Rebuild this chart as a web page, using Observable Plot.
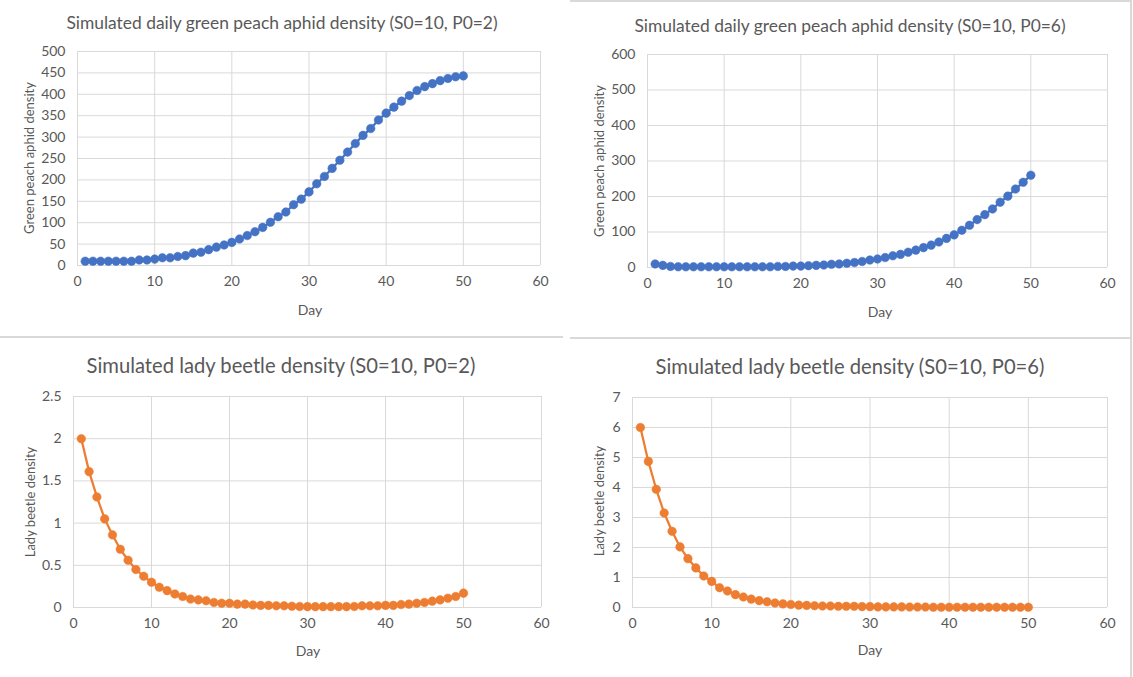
<!DOCTYPE html>
<html><head><meta charset="utf-8">
<script src="https://cdn.jsdelivr.net/npm/d3@7"></script>
<script src="https://cdn.jsdelivr.net/npm/@observablehq/plot@0.6"></script>
<style>
body{margin:0;background:#fff;}
#root{position:relative;width:1133px;height:677px;overflow:hidden;background:#fff;font-family:Lato,"Open Sans",sans-serif;color:#595959;}
.svgwrap{position:absolute;}
.txt{position:absolute;transform:translate(-50%,-50%);white-space:nowrap;color:#595959;}
.ylab{position:absolute;transform:translate(-50%,-50%) rotate(-90deg);white-space:nowrap;color:#595959;font-size:13px;line-height:1;}
.xlab{font-size:14px;}
.rule{position:absolute;background:#d9d9d9;}
</style>
</head><body><div id="root"></div>
<script>
const days = d3.range(1, 51);
const aphidP2 = [10,10,10,10,10,10,10,13,13,15,18,18,21,23,29,31,37,43,48,54,62,70,79,89,101,114,125,142,155,172,191,208,227,246,265,285,304,320,340,356,370,384,397,409,418,425,432,437,441,443];
const aphidP6 = [10,6,3,2,2,2,2,2,2,2,2,2,2,2,2,2,3,3,4,4,5,6,7,9,10,12,14,17,21,24,28,33,37,43,49,56,63,72,82,92,105,119,135,149,165,184,201,221,240,260];
const beetleP2 = [2.0,1.61,1.31,1.05,0.86,0.69,0.56,0.45,0.37,0.30,0.24,0.20,0.16,0.13,0.10,0.09,0.08,0.06,0.05,0.05,0.04,0.04,0.03,0.025,0.025,0.02,0.02,0.015,0.012,0.01,0.01,0.01,0.01,0.01,0.01,0.012,0.02,0.02,0.02,0.025,0.025,0.035,0.04,0.05,0.06,0.075,0.09,0.11,0.13,0.17];
const beetleP6 = [6.0,4.87,3.94,3.15,2.54,2.02,1.63,1.32,1.05,0.87,0.66,0.55,0.43,0.35,0.28,0.23,0.19,0.15,0.12,0.10,0.08,0.07,0.06,0.05,0.05,0.04,0.04,0.04,0.03,0.03,0.02,0.02,0.02,0.02,0.015,0.015,0.015,0.01,0.01,0.01,0.01,0.01,0.01,0.01,0.01,0.01,0.01,0.01,0.01,0.01];
const xTicks = [0,10,20,30,40,50,60];
const yTicksP2 = d3.range(0, 501, 50);
const yTicksP6 = d3.range(0, 601, 100);
const yTicksB2 = [0,0.5,1,1.5,2,2.5];
const yTicksB6 = [0,1,2,3,4,5,6,7];
const titles = [
  "Simulated daily green peach aphid density (S0=10, P0=2)",
  "Simulated daily green peach aphid density (S0=10, P0=6)",
  "Simulated lady beetle density (S0=10, P0=2)",
  "Simulated lady beetle density (S0=10, P0=6)"
];
const yLabels = ["Green peach aphid density","Green peach aphid density","Lady beetle density","Lady beetle density"];
const xLabel = "Day";
const blue = "#4472c4", orange = "#ed7d31", grid = "#d9d9d9";

const root = document.getElementById("root");

function rule(l,t,w,h){const d=document.createElement("div");d.className="rule";Object.assign(d.style,{left:l+"px",top:t+"px",width:w+"px",height:h+"px"});root.appendChild(d);}
function text(cls,str,x,y,size){const d=document.createElement("div");d.className=cls;d.textContent=str;d.style.left=x+"px";d.style.top=y+"px";if(size)d.style.fontSize=size+"px";root.appendChild(d);}

function panel(cfg){
  const data = days.map((d,i)=>({day:d, v:cfg.values[i]}));
  const chart = Plot.plot({
    width: cfg.w, height: cfg.h,
    marginLeft: cfg.ml, marginRight: cfg.mr, marginTop: cfg.mt, marginBottom: cfg.mb,
    style:{fontFamily:"Lato, 'Open Sans', sans-serif", fontSize:"14px", color:"#595959", background:"transparent"},
    x:{domain:[0,60]},
    y:{domain:cfg.ydomain},
    marks:[
      Plot.gridX(xTicks,{stroke:grid,strokeOpacity:1,strokeWidth:1}),
      Plot.gridY(cfg.yticks,{stroke:grid,strokeOpacity:1,strokeWidth:1}),
      Plot.axisX({ticks:xTicks,tickSize:0,tickPadding:11,label:null,tickFormat:d3.format("")}),
      Plot.axisY({ticks:cfg.yticks,tickSize:0,tickPadding:12,label:null,tickFormat:d3.format("")}),
      Plot.line(data,{x:"day",y:"v",stroke:cfg.color,strokeWidth:2.25}),
      Plot.dot(data,{x:"day",y:"v",fill:cfg.color,r:4.3,stroke:cfg.color,strokeWidth:0.5})
    ]
  });
  const wrap=document.createElement("div");wrap.className="svgwrap";wrap.style.left=cfg.l+"px";wrap.style.top=cfg.t+"px";
  wrap.appendChild(chart);root.appendChild(wrap);
}

panel({l:0,t:0,w:566,h:338,ml:77,mr:26,mt:51,mb:73,values:aphidP2,ydomain:[0,500],yticks:yTicksP2,color:blue});
panel({l:566,t:0,w:567,h:338,ml:81,mr:26,mt:54,mb:71,values:aphidP6,ydomain:[0,600],yticks:yTicksP6,color:blue});
panel({l:0,t:338,w:566,h:339,ml:73,mr:25,mt:58,mb:70,values:beetleP2,ydomain:[0,2.5],yticks:yTicksB2,color:orange});
panel({l:566,t:338,w:567,h:339,ml:66,mr:26,mt:59,mb:70,values:beetleP6,ydomain:[0,7],yticks:yTicksB6,color:orange});

// chart-area borders
rule(0,336,563,2);
rule(570,0,561,2);
rule(570,337,561,2);
rule(1130,0,2,677);

text("txt",titles[0],282,22,17.4);
text("txt",titles[1],850,25,17.4);
text("txt",titles[2],281,365,20.2);
text("txt",titles[3],850,366,20.2);
text("ylab",yLabels[0],29,158);
text("ylab",yLabels[1],599,161);
text("ylab",yLabels[2],30,502);
text("ylab",yLabels[3],599,501);
text("txt xlab",xLabel,310,309);
text("txt xlab",xLabel,880,311);
text("txt xlab",xLabel,308,650);
text("txt xlab",xLabel,870,649);
</script></body></html>
